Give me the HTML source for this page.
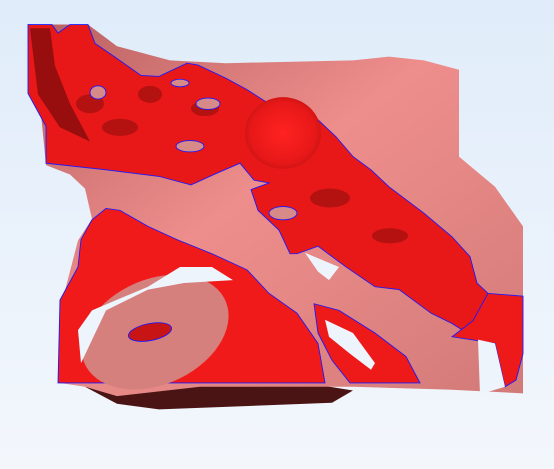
<!DOCTYPE html>
<html><head><meta charset="utf-8"><style>
html,body{margin:0;padding:0;width:554px;height:469px;overflow:hidden;background:linear-gradient(#e0ecfa,#f3f7fc);}
svg{display:block}
</style></head><body>
<svg width="554" height="469" viewBox="0 0 554 469">
<defs>
<linearGradient id="pk" x1="0" y1="0" x2="1" y2="1"><stop offset="0" stop-color="#b86060"/><stop offset="0.45" stop-color="#ee8e8c"/><stop offset="1" stop-color="#d27a78"/></linearGradient>
<radialGradient id="rd" cx="0.5" cy="0.5" r="0.6"><stop offset="0" stop-color="#ff2222"/><stop offset="0.7" stop-color="#e81818"/><stop offset="1" stop-color="#b81010"/></radialGradient>
</defs>
<g transform="scale(1,0.9433)">
<g>
<polygon fill="#4a1414" points="85,410 117,428 159,434 332,427 353,414 300,405 150,405"/>
<polygon fill="url(#pk)" points="28,26 88,26 117,49 170,64 226,67 353,64 389,60 424,64 459,74 459,166 495,198 523,240 523,417 449,413 353,410 300,410 200,410 117,420 85,410 60,406 62,320 78,255 92,232 85,200 70,185 46,175 40,110 30,60"/>
</g>
<g stroke="#1a1aff" stroke-width="0.9">
<polygon fill="#e81818" points="28,26 52,26 58,35 70,26 88,26 95,46 117,62 141,80 159,81 173,74 187,67 198,69 226,83 247,95 269,110 318,127 336,145 353,166 371,180 389,198 424,226 452,251 470,272 477,300 488,311 473,357 452,343 431,332 399,307 375,304 346,283 318,261 297,269 290,269 279,244 258,223 251,201 269,194 254,191 240,173 216,184 191,196 159,187 106,180 46,173 46,134 28,99"/>
<circle cx="283" cy="141" r="38" fill="url(#rd)" stroke="none"/>
<polygon fill="#8a0c0c" stroke="none" opacity="0.85" points="30,30 50,30 55,70 70,110 90,150 60,135 38,100"/>
<g fill="#a81010" stroke="none" opacity="0.8">
<ellipse cx="90" cy="110" rx="14" ry="10"/><ellipse cx="120" cy="135" rx="18" ry="9"/><ellipse cx="150" cy="100" rx="12" ry="9"/><ellipse cx="205" cy="115" rx="14" ry="8"/><ellipse cx="330" cy="210" rx="20" ry="10"/><ellipse cx="390" cy="250" rx="18" ry="8"/>
</g>
<g fill="#d88a88">
<ellipse cx="98" cy="98" rx="8" ry="7"/><ellipse cx="208" cy="110" rx="12" ry="6"/><ellipse cx="190" cy="155" rx="14" ry="6"/><ellipse cx="180" cy="88" rx="9" ry="4"/><ellipse cx="283" cy="226" rx="14" ry="7"/>
</g>
</g>
<g stroke="#1a1aff" stroke-width="0.9">
<polygon fill="#f01a1a" points="58,406 60,318 78,283 81,254 92,233 106,221 120,223 148,240 177,254 212,269 247,286 269,311 297,332 318,364 325,406"/>
<polygon fill="#ee1a1a" points="314,322 339,329 375,353 406,378 420,406 350,406 332,382 318,353"/>
<polygon fill="#ee1a1a" points="488,311 523,314 523,375 516,403 505,410 495,364 452,357 473,340"/>
</g>
<ellipse cx="155" cy="352" rx="78" ry="55" transform="rotate(-28 155 352)" fill="#d6807e"/>
<ellipse cx="150" cy="352" rx="22" ry="9" transform="rotate(-12 150 352)" fill="#c81414" stroke="#1a1aff" stroke-width="0.9"/>
<g fill="#eef4fc">
<polygon points="78,350 92,329 148,304 180,283 212,283 233,297 184,300 148,307 106,329 81,385"/>
<polygon points="305,268 339,283 329,297 318,288"/>
<polygon points="325,339 353,353 375,385 371,392 350,375 329,357"/>
<polygon points="478,360 495,364 505,410 480,418"/>
</g>
</g>
</svg>
</body></html>
